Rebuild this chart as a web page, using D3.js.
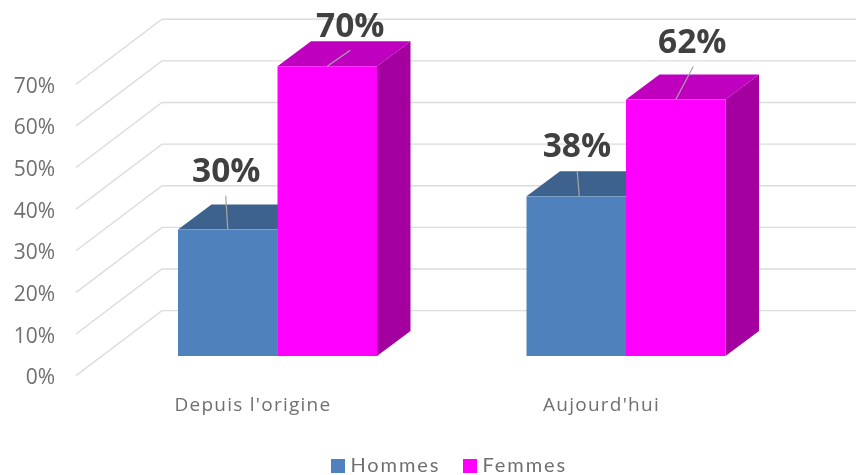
<!DOCTYPE html>
<html><head><meta charset="utf-8">
<script src="https://cdn.jsdelivr.net/npm/d3@7/dist/d3.min.js"></script>
<style>html,body{margin:0;background:#fff}svg{display:block}text{font-family:"Open Sans",Lato,sans-serif}</style>
</head><body><svg id="c" width="856" height="475"></svg>
<script>
const categories = ["Depuis l'origine", "Aujourd'hui"];
const seriesNames = ["Hommes", "Femmes"];
const hommes = [30.4, 38.4];
const femmes = [69.7, 61.7];
const tickValues = [0, 10, 20, 30, 40, 50, 60, 70];
const seriesColors = {Hommes:{front:"#4f81bd",top:"#3e628d",side:"#3e628d"},Femmes:{front:"#ff00ff",top:"#bf00bf",side:"#a3009f"}};

const svg = d3.select("#c");
const defs = svg.append("defs");
defs.append("filter").attr("id","soft").append("feGaussianBlur").attr("stdDeviation",0.45);
const root = svg.append("g").attr("filter","url(#soft)");
root.append("rect").attr("width",856).attr("height",475).attr("fill","#fff");
const fmt = v => Math.round(v) + "%";
// front plane of the bars, and of the axis wall
const y = d3.scaleLinear().domain([0, 70]).range([356, 65]);
const yWall = d3.scaleLinear().domain([0, 70]).range([375.6, 84.3]);
const depthX = 33.5, depthY = -25;          // bar depth
const wallDX = 86, wallDY = -65;            // floor depth
const x0 = d3.scaleBand().domain(categories).range([178, 725.5]).paddingInner(0.429).paddingOuter(0);
const x1 = d3.scaleBand().domain(seriesNames).range([0, x0.bandwidth()]);

// gridlines
const grid = root.append("g").attr("fill","none").attr("stroke","#dcdcdc").attr("stroke-width",1.4);
const pathGen = d3.line();
tickValues.forEach(t => {
  const yf = yWall(t);
  grid.append("path").attr("d", pathGen([[76,yf],[76+wallDX,yf+wallDY],[856,yf+wallDY]]));
});

// tick labels
root.append("g").selectAll("text").data(tickValues).join("text")
  .attr("x",55).attr("y",d=>yWall(d)+1).attr("dy","0.36em").attr("text-anchor","end")
  .attr("font-size",21).attr("fill","#6f6f6f").text(fmt);

// bars
const rows = categories.flatMap((c,i)=>[
  {c,s:"Hommes",v:hommes[i]},{c,s:"Femmes",v:femmes[i]}]);
// per-label offsets from the front-top-centre of each bar: leader end & text anchor
const labelOffsets = [[-2,-34,-1.5,-47.5],[23,-16,23,-29],[1,-25,0.7,-39],[17.5,-33,16.5,-46.5]];
const bars = root.append("g");
rows.forEach(d=>{
  const xl=x0(d.c)+x1(d.s), w=x1.bandwidth(), yt=y(d.v), yb=y(0), col=seriesColors[d.s];
  bars.append("path").attr("fill",col.side).attr("d",pathGen([[xl+w,yt],[xl+w+depthX,yt+depthY],[xl+w+depthX,yb+depthY],[xl+w,yb]])+"Z");
  bars.append("path").attr("fill",col.top).attr("d",pathGen([[xl,yt],[xl+depthX,yt+depthY],[xl+w+depthX,yt+depthY],[xl+w,yt]])+"Z");
  bars.append("rect").attr("x",xl).attr("y",yt).attr("width",w).attr("height",yb-yt).attr("fill",col.front);
});
// labels & leaders
rows.forEach((d,i)=>{
  const cx=x0(d.c)+x1(d.s)+x1.bandwidth()/2, yt=y(d.v), o=labelOffsets[i];
  root.append("line").attr("x1",cx+(i==2?3:0)).attr("y1",yt).attr("x2",cx+o[0]).attr("y2",yt+o[1]).attr("stroke","#a6a6a6").attr("stroke-width",1.2);
  root.append("text").attr("x",cx+o[2]).attr("y",yt+o[3]).attr("text-anchor","middle")
    .attr("font-size",33.5).attr("font-weight",700).attr("fill","#404040").text(fmt(d.v));
});

// category labels
root.append("g").selectAll("text").data(categories).join("text")
  .attr("x",d=>x0(d)+x0.bandwidth()/2-24.5).attr("y",411).attr("text-anchor","middle")
  .attr("font-size",19).attr("letter-spacing",1.25).attr("fill","#6f6f6f").text(d=>d);

// legend
const legendX = d3.scaleOrdinal().domain(seriesNames).range([331,463]);
const lg = root.append("g").selectAll("g").data(seriesNames).join("g").attr("transform",d=>`translate(${legendX(d)},459)`);
lg.append("rect").attr("width",14).attr("height",14).attr("fill",d=>seriesColors[d].front);
lg.append("text").attr("x",19.5).attr("y",13).attr("font-size",20).attr("letter-spacing",1.9)
  .style("font-family","Lato").attr("fill","#6f6f6f").text(d=>d);
</script></body></html>
